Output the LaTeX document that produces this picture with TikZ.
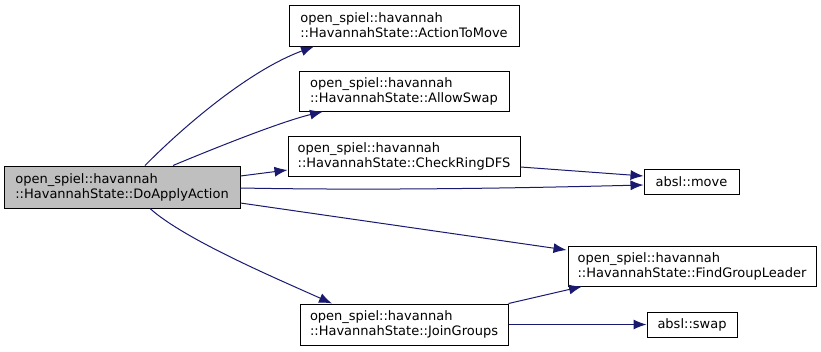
\documentclass[tikz,border=0pt]{standalone}
\usepackage{fontspec}
\setmainfont{DejaVu Sans}
\usetikzlibrary{arrows.meta}
\definecolor{callblue}{HTML}{191970}
\definecolor{curfill}{HTML}{BFBFBF}

\begin{document}
\begin{tikzpicture}[x=1pt,y=-1pt,
    fn/.style={draw=black, line width=1pt, rectangle, align=left, inner sep=0pt,
      font=\fontsize{13}{15}\selectfont},
    call/.style={draw=callblue, line width=1pt, -{Latex[length=13pt,width=10pt]}}]
    \useasboundingbox (0,0) rectangle (821,351);
    % functions
    \node[fn, fill=curfill, minimum width=236pt, minimum height=42pt] (do) at (122,187)
        {open\_spiel::havannah\\::HavannahState::DoApplyAction};
    \node[fn, minimum width=230pt, minimum height=41pt] (a2m) at (404,25.5)
        {open\_spiel::havannah\\::HavannahState::ActionToMove};
    \node[fn, minimum width=210pt, minimum height=40pt] (swp) at (404,91)
        {open\_spiel::havannah\\::HavannahState::AllowSwap};
    \node[fn, minimum width=232pt, minimum height=40pt] (crd) at (404,156.5)
        {open\_spiel::havannah\\::HavannahState::CheckRingDFS};
    \node[fn, minimum width=208pt, minimum height=41pt] (jg) at (404,324.5)
        {open\_spiel::havannah\\::HavannahState::JoinGroups};
    \node[fn, minimum width=95pt, minimum height=25pt] (mv) at (691.5,181.5) {absl::move};
    \node[fn, minimum width=248pt, minimum height=40pt] (fgl) at (692,266)
        {open\_spiel::havannah\\::HavannahState::FindGroupLeader};
    \node[fn, minimum width=90pt, minimum height=25pt] (sw) at (692,324.5) {absl::swap};
    % calls
    \draw[call] ([xshift=23pt]do.north) .. controls (185,125) and (250,70) .. ([xshift=-90pt]a2m.south);
    \draw[call] ([xshift=51pt]do.north) .. controls (215,148) and (280,122) .. ([xshift=-81pt]swp.south);
    \draw[call] ([yshift=11pt]do.east) -- ([yshift=-13.5pt]crd.west);
    \draw[call] ([yshift=-1pt]do.east) .. controls (400,191) and (560,187) .. ([yshift=-3.5pt]mv.west);
    \draw[call] ([yshift=-16pt]do.east) -- ([xshift=-1pt,yshift=16pt]fgl.west);
    \draw[call] ([xshift=28pt]do.south) .. controls (185,240) and (280,280) .. ([xshift=-72pt]jg.north);
    \draw[call] ([yshift=-10.5pt]crd.east) -- ([yshift=5.5pt]mv.west);
    \draw[call] (jg.north east) -- ([xshift=-110pt]fgl.south);
    \draw[call] (jg.east) -- (sw.west);
\end{tikzpicture}
\end{document}
